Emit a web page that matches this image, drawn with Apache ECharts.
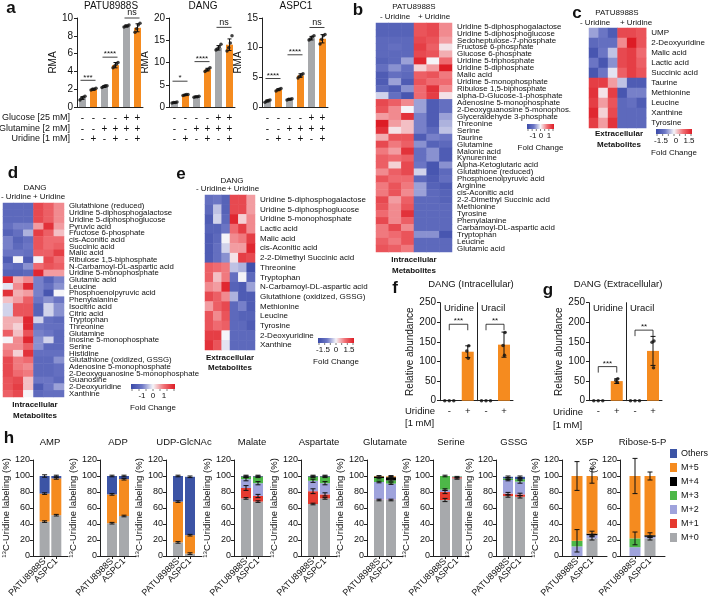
<!DOCTYPE html>
<html><head><meta charset="utf-8">
<script src="https://cdn.jsdelivr.net/npm/echarts@6.0.0/dist/echarts.min.js"></script>
<style>html,body{margin:0;padding:0;background:#fff}#c{width:708px;height:601px}</style>
</head><body><div id="c"></div>
<script>
const FONT = '"Liberation Sans", Arial, Helvetica, sans-serif';
const GRAY = '#a7a9ac', ORANGE = '#f58b1f';

// ---------- Panel a ----------
const aConditionNames = ['Glucose [25 mM]', 'Glutamine [2 mM]', 'Uridine [1 mM]'];
const aGlucose = ['-', '-', '-', '-', '+', '+'];
const aGlutamine = ['-', '-', '+', '+', '+', '+'];
const aUridine = ['-', '+', '-', '+', '-', '+'];
const aCells = ['PATU8988S', 'DANG', 'ASPC1'];
const aYMax = [10, 20, 15];
const aYInterval = [2, 5, 5];
const aPATU = [1.0, 2.0, 2.3, 4.7, 9.1, 8.9];
const aPATUErr = [0.15, 0.1, 0.1, 0.3, 0.1, 0.45];
const aPATUDots = [[0.8, 1.0, 1.1, 1.2], [1.9, 2.0, 2.0, 2.1], [2.2, 2.3, 2.4, 2.4], [4.4, 4.6, 4.8, 5.0], [9.0, 9.1, 9.1, 9.2], [8.4, 8.8, 9.2, 9.4]];
const aPATUSig = [[0, 1, 3.0, '***'], [2, 3, 5.6, '****'], [4, 5, 10.0, 'ns']];
const aDANG = [1.0, 2.7, 2.3, 8.4, 13.3, 14.0];
const aDANGErr = [0.1, 0.1, 0.1, 0.3, 0.5, 1.3];
const aDANGDots = [[0.9, 1.0, 1.0, 1.1], [2.6, 2.7, 2.8, 2.8], [2.2, 2.3, 2.3, 2.4], [8.0, 8.3, 8.5, 8.8], [12.8, 13.1, 13.5, 14.1], [12.6, 13.3, 14.4, 16.0]];
const aDANGSig = [[0, 1, 5.8, '*'], [2, 3, 10.2, '****'], [4, 5, 17.9, 'ns']];
const aASPC1 = [1.0, 2.9, 1.3, 5.3, 11.6, 11.5];
const aASPC1Err = [0.15, 0.15, 0.1, 0.3, 0.3, 0.7];
const aASPC1Dots = [[0.8, 1.0, 1.1, 1.2], [2.7, 2.9, 3.0, 3.1], [1.2, 1.3, 1.3, 1.4], [4.9, 5.2, 5.4, 5.6], [11.3, 11.5, 11.8, 12.0], [10.6, 11.4, 12.0, 12.2]];
const aASPC1Sig = [[0, 1, 4.8, '****'], [2, 3, 8.8, '****'], [4, 5, 13.4, 'ns']];

// ---------- Heatmaps ----------
const heatColors = ['#3a4aa8', '#6e78c6', '#f5f4f8', '#f07075', '#dd1c25'];
const bRows = ['Uridine 5-diphosphogalactose', 'Uridine 5-diphosphoglucose', 'Sedoheptulose-7-phosphate', 'Fructose 6-phosphate', 'Glucose 6-phosphate', 'Uridine 5-triphosphate', 'Uridine 5-diphosphate', 'Malic acid', 'Uridine 5-monophosphate', 'Ribulose 1,5-biphosphate', 'alpha-D-Glucose-1-phosphate', 'Adenosine 5-monophosphate', '2-Deoxyguanosine 5-monophos.', 'Glyceraldehyde 3-phosphate', 'Threonine', 'Serine', 'Taurine', 'Glutamine', 'Malonic acid', 'Kynurenine', 'Alpha-Ketoglutaric acid', 'Glutathione (reduced)', 'Phosphoenolpyruvic acid', 'Arginine', 'cis-Aconitic acid', '2-2-Dimethyl Succinic acid', 'Methionine', 'Tyrosine', 'Phenylalanine', 'Carbamoyl-DL-aspartic acid', 'Tryptophan', 'Leucine', 'Glutamic acid'];
const bValues = [
  [-1.1, -1.1, -1.1, 1.0, 1.1, 0.6], [-1.1, -1.1, -1.1, 1.0, 1.1, 0.6], [-1.0, -1.0, -1.0, 1.1, 1.0, 0.5],
  [-1.0, -0.9, -1.0, 1.2, 0.9, 0.1], [-1.0, -1.0, -1.0, 1.1, 1.0, 0.4], [-1.1, -1.0, -0.5, 1.4, 0.0, 0.8],
  [-0.9, -0.6, -0.9, 0.2, 0.5, 1.5], [-1.2, -0.9, -1.0, 0.9, 1.0, 0.7], [-1.2, -0.5, -1.2, 1.0, 0.8, 0.8],
  [-1.0, -1.2, -0.6, 0.8, 1.3, 0.6], [-0.2, -0.9, -1.3, 0.8, 1.2, 0.1], [1.1, 0.9, 0.6, -0.5, -1.2, -0.9],
  [1.0, 0.6, 0.0, -0.5, -1.2, -0.9], [0.5, 0.6, 1.3, -0.7, -1.2, -0.5], [1.5, 0.5, 0.3, -0.7, -1.2, -0.4],
  [1.3, 0.1, 0.3, -0.7, -1.0, -0.3], [0.4, 1.0, 1.0, -1.2, -0.7, -0.8], [1.1, 0.7, 0.9, -0.6, -1.1, -1.0],
  [0.7, 0.5, 1.3, -0.9, -0.6, -1.2], [0.9, 0.8, 0.9, -0.9, -0.6, -1.2], [0.9, 0.2, 1.1, -0.8, -1.3, -0.6],
  [0.6, 0.9, 1.1, -0.2, -1.3, -1.0], [1.0, 0.8, 0.8, -1.0, -1.2, -0.9], [0.7, 1.0, 0.7, -0.5, -1.1, -1.2],
  [0.7, 1.0, 0.6, -0.5, -1.0, -1.1], [1.1, 0.5, 0.9, -1.0, -1.0, -1.1], [1.0, 0.6, 1.0, -1.0, -1.0, -1.0],
  [0.8, 0.6, 1.3, -1.0, -1.0, -1.0], [1.1, 0.6, 0.9, -1.0, -1.0, -1.0], [0.7, 1.1, 0.6, -1.0, -1.0, -1.0],
  [0.7, 0.8, 1.0, -0.6, -0.6, -1.3], [0.9, 0.7, 1.0, -1.0, -1.0, -1.0], [1.0, 0.9, 0.7, -1.0, -1.0, -1.0]
];
const cRows = ['UMP', '2-Deoxyuridine', 'Malic acid', 'Lactic acid', 'Succinic acid', 'Taurine', 'Methionine', 'Leucine', 'Xanthine', 'Tyrosine'];
const cValues = [
  [-0.5, -0.8, -1.2, 1.1, 1.1, 1.0], [-1.0, -0.9, -0.9, 0.6, 1.5, 1.0], [-1.3, -0.8, -0.3, 1.1, 1.2, 0.8],
  [-0.8, -1.3, -0.6, 1.1, 1.2, 0.9], [-1.3, -0.8, -0.1, 0.9, 1.2, 1.0], [1.2, 1.2, 0.5, -0.3, -1.2, -1.2],
  [1.3, 0.1, 1.2, -1.3, -0.7, -0.7], [1.2, 0.5, 1.0, -1.0, -0.9, -1.2], [1.4, 0.2, 1.1, -1.0, -1.0, -1.0],
  [1.2, 0.5, 1.3, -1.0, -1.0, -1.0]
];
const dRows = ['Glutathione (reduced)', 'Uridine 5-diphosphogalactose', 'Uridine 5-diphosphoglucose', 'Pyruvic acid', 'Fructose 6-phosphate', 'cis-Aconitic acid', 'Succinic acid', 'Malic acid', 'Ribulose 1,5-biphosphate', 'N-Carbamoyl-DL-aspartic acid', 'Uridine 5-monophosphate', 'Glutamic acid', 'Leucine', 'Phosphoenolpyruvic acid', 'Phenylalanine', 'Isocitric acid', 'Citric acid', 'Tryptophan', 'Threonine', 'Glutamine', 'Inosine 5-monophosphate', 'Serine', 'Histidine', 'Glutathione (oxidized, GSSG)', 'Adenosine 5-monophosphate', '2-Deoxyguanosine 5-monophosphate', 'Guanosine', '2-Deoxyuridine', 'Xanthine'];
const dValues = [
  [-1.0, -1.0, -1.0, 1.1, 0.9, 0.6], [-1.0, -1.0, -1.0, 1.1, 0.9, 0.6], [-1.0, -1.0, -1.0, 1.1, 0.9, 0.6],
  [-0.9, -0.7, -0.7, 0.5, 1.3, 0.5], [-1.1, -0.9, -0.4, 1.2, 0.9, 0.3], [-0.7, -1.1, -0.9, 1.0, 0.8, 0.8],
  [-0.7, -1.0, -0.8, 1.0, 0.8, 0.9], [-0.8, -0.8, -0.9, 0.9, 0.9, 1.2], [-1.2, 0.0, -1.2, 0.0, 1.1, 0.8],
  [-0.9, -1.0, -0.6, 0.8, 1.0, 0.9], [-1.1, -1.1, -1.0, 1.4, 0.5, 0.5], [1.4, 0.4, 0.6, -0.7, -1.1, -0.7],
  [-0.1, 0.6, 1.4, -0.7, -0.9, -0.6], [1.3, 0.4, 0.5, -0.7, -1.3, 0.0], [0.3, 0.5, 0.9, -0.8, -0.6, -0.8],
  [-0.2, 1.0, 1.0, -1.1, -0.2, -0.6], [-0.2, 1.0, 1.0, -1.1, -0.2, -0.6], [0.4, 0.4, 1.4, -0.2, -0.9, -1.0],
  [0.4, 0.2, 1.4, -0.8, -0.9, -0.9], [0.9, 0.3, 1.0, -0.7, -0.8, -1.0], [0.0, 0.6, 1.4, -0.6, -0.2, -1.0],
  [0.6, 0.6, 0.9, -0.6, -1.0, -1.0], [0.7, 0.2, 1.3, -0.9, -0.9, -0.9], [1.1, 0.7, 0.8, -1.0, -1.0, -0.6],
  [1.1, 0.7, 0.6, -1.0, -1.0, -0.9], [1.1, 0.8, 0.7, -1.0, -1.0, -0.9], [1.0, 1.1, 0.3, -0.8, -0.8, -1.0],
  [1.0, 1.2, 0.3, -1.2, -0.8, -0.5], [0.9, 1.1, 0.0, -1.0, -0.9, -0.9]
];
const eRows = ['Uridine 5-diphosphogalactose', 'Uridine 5-diphosphoglucose', 'Uridine 5-monophosphate', 'Lactic acid', 'Malic acid', 'cis-Aconitic acid', '2-2-Dimethyl Succinic acid', 'Threonine', 'Tryptophan', 'N-Carbamoyl-DL-aspartic acid', 'Glutathione (oxidized, GSSG)', 'Methionine', 'Leucine', 'Tyrosine', '2-Deoxyuridine', 'Xanthine'];
const eValues = [
  [-0.9, -0.8, -1.1, 1.1, 1.1, 0.5], [-1.0, -0.3, -1.1, 1.1, 1.1, 0.5], [-1.2, -0.2, -1.0, 1.4, 0.2, 0.6],
  [-1.1, -1.1, -0.8, 0.8, 1.2, 0.6], [-1.2, -1.0, 0.0, 0.6, 0.7, 1.2], [-1.2, -0.9, -0.2, 0.5, 0.5, 1.4],
  [-1.2, -0.9, -0.6, 0.1, 1.2, 1.1], [0.9, 0.8, 0.7, -0.3, -0.4, -1.4], [0.9, 0.3, 0.7, -0.9, 0.0, -1.0],
  [0.6, 0.5, 1.4, -1.1, -1.2, -0.5], [1.1, 0.9, 0.6, -0.4, -1.2, -1.2], [0.5, 0.9, 1.1, -1.0, -0.7, -1.2],
  [1.0, 0.6, 1.0, -1.0, -1.1, -1.1], [1.0, 0.8, 0.9, -1.0, -1.0, -1.2], [1.2, 1.2, 0.0, -1.0, -1.0, -1.0],
  [1.3, 1.0, -0.1, -1.0, -1.0, -1.0]
];

// ---------- Panels f, g ----------
const fgCats = ['-', '+'];
const fUridine = [0, 125], fUridineErr = [0, 15], fUridineDots = [[0, 0, 0], [140, 127, 108]];
const fUracil = [0, 143], fUracilErr = [0, 32], fUracilDots = [[0, 0, 0], [174, 141, 116]];
const gUridine = [0, 50], gUridineErr = [0, 6], gUridineDots = [[0, 0, 0], [56, 52, 47]];
const gUracil = [0, 127], gUracilErr = [0, 37], gUracilDots = [[0, 0, 0], [152, 149, 84]];
const fUridineSig = [[0, 1, 195, '***']], fUracilSig = [[0, 1, 195, '**']];
const gUridineSig = [[0, 1, 87, '***']], gUracilSig = [[0, 1, 180, '**']];

// ---------- Panel h ----------
const hMetabolites = ['AMP', 'ADP', 'UDP-GlcNAc', 'Malate', 'Aspartate', 'Glutamate', 'Serine', 'GSSG', 'X5P', 'Ribose-5-P'];
const hCellLines = ['PATU8988S', 'ASPC1'];
const hIsotopologues = ['M+0', 'M+1', 'M+2', 'M+3', 'M+4', 'M+5', 'Others'];
const hColors = ['#a7a9ac', '#e53a2f', '#9fa3dc', '#4db848', '#000000', '#f58b1f', '#3c54a5'];
const hM0P = [43, 41, 17, 72, 65, 70, 70, 75, 0, 0];
const hM1P = [0, 0, 0, 13, 16, 0.5, 10, 3, 0, 0];
const hM2P = [0, 0, 0, 11, 13, 22, 3, 17, 12, 11];
const hM3P = [0, 0, 0, 3, 5, 5, 17, 2, 7, 11];
const hM4P = [0, 0, 0, 0.5, 0.5, 2, 0, 0, 0, 0];
const hM5P = [35, 36, 51, 0, 0, 0.5, 0, 0, 81, 78];
const hOthP = [22, 23, 32, 0.5, 0.5, 0, 0, 2, 0, 0];
const hM0A = [51, 50, 3, 68, 72, 70, 97, 74, 22, 22];
const hM1A = [0, 0, 0, 7, 5, 0.5, 1.5, 3, 0, 0];
const hM2A = [0, 0, 0, 16, 14, 20, 1, 16, 4, 2];
const hM3A = [0, 0, 0, 8, 8, 4, 0.5, 3, 0, 0];
const hM4A = [0, 0, 0, 0.5, 0.5, 4, 0, 0, 2, 2];
const hM5A = [46, 46, 23, 0, 0, 1, 0, 0, 72, 74];
const hOthA = [3, 4, 73, 0.5, 0.5, 0, 0, 3, 0, 0];
const hErrP = [[1, 0, 0, 0, 0, 1, 1.5], [1, 0, 0, 0, 0, 1, 1], [1, 0, 0, 0, 0, 1, 1], [1, 3, 2, 1, 0, 0, 1], [1, 3, 2, 1, 0, 0, 1],
  [1, 0, 1, 1, 1, 0, 0], [2, 2, 1, 1, 0, 0, 0], [1.5, 1.5, 1, 1, 0, 0, 1], [0, 0, 0, 14, 0, 18, 0], [0, 0, 0, 8, 0, 22, 0]];
const hErrA = [[1, 0, 0, 0, 0, 1, 1], [1, 0, 0, 0, 0, 1, 1], [1, 0, 0, 0, 0, 1, 1], [1, 2, 2, 1, 0, 0, 1], [1, 2, 2, 1, 0, 0, 1],
  [1, 0, 1, 1, 1, 1, 0], [1, 1, 0, 0, 0, 0, 0], [1.5, 1.5, 2, 1, 0, 0, 1], [2, 0, 1, 0, 3, 9, 0], [2, 0, 1, 0, 3, 5, 0]];

// ---------- layout (positions / sizes) ----------
const aGridLeft = [77, 169, 262];
const hAxisX = [32, 100, 166, 234, 301, 367, 433, 496, 562, 620];
const hUnit = [12, 12, 12, 12, 12, 12, 12, 12, 15, 15];
const hBarW = [10, 10, 10, 10, 10, 10, 10, 10, 11, 11];

const option = {
  animation: false, backgroundColor: '#fff',
  textStyle: { fontFamily: FONT, color: '#111' },
  grid: [], xAxis: [], yAxis: [], series: [], visualMap: [], graphic: [],
  legend: {
    data: ['Others', 'M+5', 'M+4', 'M+3', 'M+2', 'M+1', 'M+0'], orient: 'vertical', left: 670, top: 449,
    itemWidth: 7, itemHeight: 9, itemGap: 5, icon: 'rect', padding: 0, selectedMode: false,
    textStyle: { fontSize: 9, color: '#111', fontFamily: FONT, padding: [0, 0, 0, -1] }
  }
};
const axLine = { show: true, lineStyle: { color: '#222', width: 1 } };
const axTick = { show: true, length: 3, lineStyle: { color: '#222', width: 1 } };

function addAxes(g, x, y) {
  const gi = option.grid.length;
  option.grid.push(Object.assign({ containLabel: false }, g));
  option.xAxis.push(Object.assign({ gridIndex: gi, splitLine: { show: false } }, x));
  option.yAxis.push(Object.assign({ gridIndex: gi, splitLine: { show: false } }, y));
  return gi;
}
function T(x, y, text, size, align, weight) {
  return { type: 'text', x, y, silent: true, z: 100,
    style: { text, fontSize: size, fontFamily: FONT, fontWeight: weight || 'normal', fill: '#111', align: align || 'center', verticalAlign: 'middle' } };
}
function errRender(capW) {
  return function (params, api) {
    const x = api.value(0), m = api.value(1), e = api.value(2);
    if (!e) return null;
    const t = api.coord([x, m + e]), b = api.coord([x, m - e]);
    const st = { stroke: '#111', lineWidth: 1 };
    return { type: 'group', children: [
      { type: 'line', shape: { x1: t[0], y1: t[1], x2: b[0], y2: b[1] }, style: st },
      { type: 'line', shape: { x1: t[0] - capW, y1: t[1], x2: t[0] + capW, y2: t[1] }, style: st },
      { type: 'line', shape: { x1: b[0] - capW, y1: b[1], x2: b[0] + capW, y2: b[1] }, style: st }
    ] };
  };
}
function sigSeries(gi, sig, bracket, fontSize) {
  return {
    type: 'custom', xAxisIndex: gi, yAxisIndex: gi, z: 5, silent: true,
    data: sig.map(s => [s[0], s[1], s[2]]), encode: { x: [0, 1], y: 2 },
    renderItem: function (params, api) {
      const p1 = api.coord([api.value(0), api.value(2)]), p2 = api.coord([api.value(1), api.value(2)]);
      const label = sig[params.dataIndex][3];
      const st = { stroke: '#111', lineWidth: 0.8 };
      const ch = [];
      if (bracket) {
        ch.push({ type: 'polyline', shape: { points: [[p1[0], p1[1] + 6], [p1[0], p1[1]], [p2[0], p2[1]], [p2[0], p2[1] + 6]] }, style: Object.assign({ fill: null }, st) });
      } else {
        ch.push({ type: 'line', shape: { x1: p1[0] - 2, y1: p1[1], x2: p2[0] + 2, y2: p2[1] }, style: st });
      }
      ch.push({ type: 'text', x: (p1[0] + p2[0]) / 2, y: p1[1] - (label === 'ns' ? 5 : 3),
        style: { text: label, fontSize: label === 'ns' ? 9 : fontSize, fontFamily: FONT, fill: '#111', align: 'center', verticalAlign: 'middle' } });
      return { type: 'group', children: ch };
    }
  };
}
function dotSeries(gi, dots, spread) {
  const data = [];
  dots.forEach((arr, i) => arr.forEach((v, k) => {
    const off = spread[k % spread.length];
    data.push({ value: [i, v], symbolOffset: [off, 0] });
  }));
  return { type: 'scatter', xAxisIndex: gi, yAxisIndex: gi, z: 6, silent: true, symbolSize: 3.5, itemStyle: { color: '#111' }, data };
}

// ----- build panel a -----
const aValues = [aPATU, aDANG, aASPC1], aErrs = [aPATUErr, aDANGErr, aASPC1Err];
const aDots = [aPATUDots, aDANGDots, aASPC1Dots], aSigs = [aPATUSig, aDANGSig, aASPC1Sig];
const aXLabels = aGlucose.map((g, i) => g + '\n' + aGlutamine[i] + '\n' + aUridine[i]);
aCells.forEach((cell, j) => {
  const gi = addAxes({ left: aGridLeft[j], top: 18, width: 66, height: 89 },
    { type: 'category', data: aXLabels, axisLine: axLine, axisTick: { show: false },
      axisLabel: { fontSize: 10, lineHeight: 10.5, margin: 6, interval: 0, color: '#111' } },
    { type: 'value', min: 0, max: aYMax[j], interval: aYInterval[j], axisLine: axLine, axisTick: axTick,
      axisLabel: { fontSize: 10, margin: 4, color: '#111' }, name: 'RMA', nameLocation: 'middle', nameGap: 13,
      nameTextStyle: { fontSize: 10, color: '#111' } });
  option.series.push({ type: 'bar', xAxisIndex: gi, yAxisIndex: gi, barWidth: 7, silent: true,
    data: aValues[j].map((v, i) => ({ value: v, itemStyle: { color: aUridine[i] === '+' ? ORANGE : GRAY } })) });
  option.series.push({ type: 'custom', xAxisIndex: gi, yAxisIndex: gi, z: 4, silent: true, renderItem: errRender(2),
    data: aValues[j].map((v, i) => [i, v, aErrs[j][i]]), encode: { x: 0, y: 1 } });
  option.series.push(dotSeries(gi, aDots[j], [-2.5, -0.8, 0.8, 2.5]));
  option.series.push(sigSeries(gi, aSigs[j], false, 8));
  option.graphic.push(T(aGridLeft[j] + 34, 6, cell, 10));
});
aConditionNames.forEach((n, i) => option.graphic.push(T(70, 118 + i * 10.5, n, 9, 'right')));

// ----- heatmaps -----
function addHeatmap(rows, values, g, fontSize) {
  const gi = addAxes(g,
    { type: 'category', data: ['1', '2', '3', '4', '5', '6'], show: false },
    { type: 'category', data: rows, inverse: true, position: 'right', axisLine: { show: false }, axisTick: { show: false },
      axisLabel: { fontSize, margin: 5, interval: 0, color: '#111' } });
  const si = option.series.length;
  option.series.push({ type: 'heatmap', xAxisIndex: gi, yAxisIndex: gi, silent: true,
    data: values.flatMap((row, r) => row.map((v, c) => [c, r, v])) });
  option.visualMap.push({ type: 'continuous', show: false, min: -1.5, max: 1.5, dimension: 2, seriesIndex: si, inRange: { color: heatColors } });
}
addHeatmap(bRows, bValues, { left: 376, top: 23, width: 76, height: 229 }, 7.9);
addHeatmap(cRows, cValues, { left: 589, top: 28, width: 62, height: 100 }, 8);
addHeatmap(dRows, dValues, { left: 3, top: 203, width: 61, height: 194 }, 7.8);
addHeatmap(eRows, eValues, { left: 205, top: 195, width: 50, height: 155 }, 8);

function colorBar(x, y, w, labels, labelXs) {
  const stops = heatColors.map((c, i) => ({ offset: i / (heatColors.length - 1), color: c }));
  option.graphic.push({ type: 'rect', silent: true, shape: { x, y, width: w, height: 5 },
    style: { fill: { type: 'linear', x: 0, y: 0, x2: 1, y2: 0, colorStops: stops } } });
  for (let k = 0; k <= 6; k++) {
    const tx = x + 1 + k * (w - 2) / 6;
    option.graphic.push({ type: 'line', silent: true, shape: { x1: tx, y1: y + 5, x2: tx, y2: y + 7 }, style: { stroke: '#222', lineWidth: 0.6 } });
  }
  labels.forEach((l, i) => option.graphic.push(T(labelXs[i], y + 12, l, 8)));
  option.graphic.push(T(x + w / 2, y + 24, 'Fold Change', 8));
}
colorBar(527, 124, 27, ['-1', '0', '1'], [533, 541, 549]);
colorBar(656, 129, 36, ['-1.5', '0', '1.5'], [661, 676, 689]);
colorBar(131, 384, 44, ['-1', '0', '1'], [142, 153, 164]);
colorBar(318, 338, 36, ['-1.5', '0', '1.5'], [323, 336, 349]);

// heatmap headings
option.graphic.push(
  T(414, 7, 'PATU8988S', 8), T(395, 17, '- Uridine', 8), T(434, 17, '+ Uridine', 8),
  T(414, 260, 'Intracellular', 8, 'center', 'bold'), T(414, 271, 'Metabolites', 8, 'center', 'bold'),
  T(617, 13, 'PATU8988S', 8), T(595, 23, '- Uridine', 8), T(636, 23, '+ Uridine', 8),
  T(619, 134, 'Extracellular', 8, 'center', 'bold'), T(619, 145, 'Metabolites', 8, 'center', 'bold'),
  T(35, 188, 'DANG', 8), T(16, 197, '- Uridine', 8), T(49, 197, '+ Uridine', 8),
  T(35, 405, 'Intracellular', 8, 'center', 'bold'), T(35, 416, 'Metabolites', 8, 'center', 'bold'),
  T(232, 181, 'DANG', 8), T(211, 189, '- Uridine', 8), T(243, 189, '+ Uridine', 8),
  T(230, 358, 'Extracellular', 8, 'center', 'bold'), T(230, 368, 'Metabolites', 8, 'center', 'bold')
);

// ----- panels f, g -----
function fgPanel(left, mid, right, sets) {
  sets.forEach((s, k) => {
    const gl = k === 0 ? left : mid, gw = k === 0 ? mid - left : right - mid;
    const gi = addAxes({ left: gl, top: 302.7, width: gw, height: 98 },
      { type: 'category', data: fgCats, axisLine: axLine, axisTick: { show: false },
        axisLabel: { fontSize: 9.5, margin: 6, interval: 0, color: '#111' } },
      k === 0 ? { type: 'value', min: 0, max: 250, interval: 50, axisLine: axLine, axisTick: axTick,
          axisLabel: { fontSize: 10, margin: 4, color: '#111' }, name: 'Relative abundance', nameLocation: 'middle', nameGap: 19,
          nameTextStyle: { fontSize: 10, color: '#111' } }
        : { type: 'value', min: 0, max: 250, interval: 50, axisLine: axLine, axisTick: { show: false }, axisLabel: { show: false } });
    option.series.push({ type: 'bar', xAxisIndex: gi, yAxisIndex: gi, barWidth: 12, silent: true,
      data: s.vals.map((v, i) => ({ value: v, itemStyle: { color: i === 1 ? ORANGE : GRAY } })) });
    option.series.push({ type: 'custom', xAxisIndex: gi, yAxisIndex: gi, z: 4, silent: true, renderItem: errRender(2.5),
      data: s.vals.map((v, i) => [i, v, s.err[i]]), encode: { x: 0, y: 1 } });
    option.series.push(dotSeries(gi, [s.dots[0]], [-4.5, 0, 4.5]));
    option.series.push(dotSeries(gi, [[], s.dots[1]], [1, -1, 0.5]));
    option.series.push(sigSeries(gi, s.sig, true, 8));
    option.graphic.push(T(gl + 4, 308, s.title, 9.5, 'left'));
  });
}
fgPanel(440, 477, 513, [
  { vals: fUridine, err: fUridineErr, dots: fUridineDots, sig: fUridineSig, title: 'Uridine' },
  { vals: fUracil, err: fUracilErr, dots: fUracilDots, sig: fUracilSig, title: 'Uracil' }]);
fgPanel(589, 626, 662, [
  { vals: gUridine, err: gUridineErr, dots: gUridineDots, sig: gUridineSig, title: 'Uridine' },
  { vals: gUracil, err: gUracilErr, dots: gUracilDots, sig: gUracilSig, title: 'Uracil' }]);
option.graphic.push(
  T(471, 284, 'DANG (Intracellular)', 9.5), T(618, 284, 'DANG (Extracellular)', 9.5),
  T(405, 411, 'Uridine', 9.5, 'left'), T(405, 423, '[1 mM]', 9.5, 'left'),
  T(553, 412, 'Uridine', 9.5, 'left'), T(553, 425, '[1 mM]', 9.5, 'left')
);

// ----- panel h -----
const hP = [hM0P, hM1P, hM2P, hM3P, hM4P, hM5P, hOthP];
const hA = [hM0A, hM1A, hM2A, hM3A, hM4A, hM5A, hOthA];
const hXCats = ['', hCellLines[0], hCellLines[1], ''];
hMetabolites.forEach((met, i) => {
  const gi = addAxes({ left: hAxisX[i], top: 460, width: hUnit[i] * 3, height: 96 },
    { type: 'category', data: hXCats, boundaryGap: false, axisLine: axLine,
      axisTick: Object.assign({}, axTick, { interval: (idx) => idx === 1 || idx === 2 }),
      axisLabel: { interval: 0, rotate: 45, fontSize: 9, margin: 4, color: '#111' } },
    { type: 'value', min: 0, max: 120, interval: 20, axisLine: axLine, axisTick: axTick,
      axisLabel: { fontSize: 9, margin: 3, color: '#111' },
      name: '{s|13}{n|C-Uridine labeling (%)}', nameLocation: 'middle', nameGap: 17,
      nameTextStyle: { rich: { s: { fontSize: 6, verticalAlign: 'top', fontFamily: FONT, color: '#111' }, n: { fontSize: 9.5, fontFamily: FONT, color: '#111' } } } });
  const errData = [];
  const cum = [0, 0];
  hIsotopologues.forEach((iso, k) => {
    option.series.push({ type: 'bar', name: iso, xAxisIndex: gi, yAxisIndex: gi, stack: 'h' + i, barWidth: hBarW[i], silent: true,
      itemStyle: { color: hColors[k] }, data: ['-', hP[k][i], hA[k][i], '-'] });
    [[hP, hErrP], [hA, hErrA]].forEach((pair, c) => {
      const v = pair[0][k][i];
      cum[c] += v;
      const e = pair[1][i][k];
      if (v > 0 && e > 0) errData.push([c + 1, cum[c], e]);
    });
  });
  option.series.push({ type: 'custom', xAxisIndex: gi, yAxisIndex: gi, z: 4, silent: true, renderItem: errRender(2.5),
    data: errData, encode: { x: 0, y: 1 } });
  option.graphic.push(T(hAxisX[i] + hUnit[i] * 1.5, 442, met, 9.5));
});

// panel letters
[['a', 11, 8], ['b', 358, 10], ['c', 577, 13], ['d', 13, 173], ['e', 181, 174], ['f', 395, 288], ['g', 548, 290], ['h', 9, 438]]
  .forEach(l => option.graphic.push(T(l[1], l[2], l[0], 17, 'center', 'bold')));

const chart = echarts.init(document.getElementById('c'), null, { renderer: 'canvas' });
chart.setOption(option);
</script></body></html>
